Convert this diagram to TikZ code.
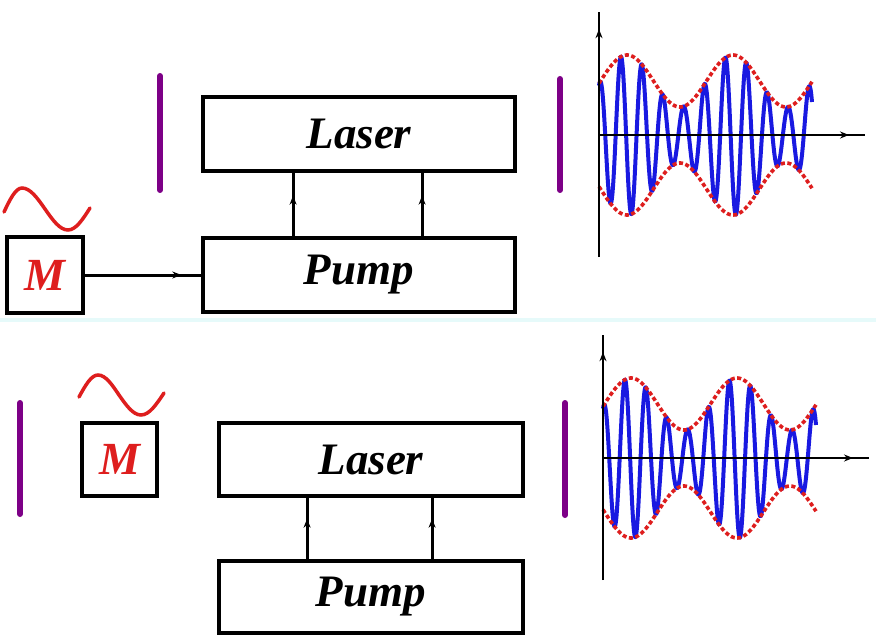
\documentclass[tikz,border=0pt]{standalone}
\usepackage{fontspec}
\setmainfont{Liberation Serif}
\usetikzlibrary{arrows.meta,decorations.markings}
\definecolor{mirrorpurple}{RGB}{125,0,135}
\definecolor{wavered}{RGB}{222,30,30}
\definecolor{carrierblue}{RGB}{25,25,225}
\definecolor{sepcyan}{RGB}{230,250,250}
\tikzset{
  blockbox/.style={draw=black, line width=3.8pt, inner sep=0pt,
    font=\fontsize{45}{50}\selectfont\bfseries\itshape},
  modbox/.style={draw=black, line width=3.8pt, inner sep=0pt, text=wavered,
    font=\fontsize{46}{50}\selectfont\bfseries\itshape},
  mirrorline/.style={draw=mirrorpurple, line width=6pt, line cap=round},
  midarrow/.style={decoration={markings, mark=at position #1 with {\arrow{Stealth[length=9pt,width=7pt]}}}, postaction={decorate}},
  conn/.style={line width=3pt},
  axisline/.style={line width=2.6pt},
  modwave/.style={draw=wavered, line width=3.5pt, line cap=round},
  envline/.style={draw=wavered, line width=3.6pt, dash pattern=on 4pt off 2.5pt},
  carrierline/.style={draw=carrierblue, line width=4pt, line join=round},
}
\begin{document}
\begin{tikzpicture}[x=1pt,y=-1pt]
\useasboundingbox (0,0) rectangle (876,642);
\fill[white] (0,0) rectangle (876,642);
% separator
\fill[sepcyan] (0,318) rectangle (876,322);

% ---------- top half ----------
\node[blockbox, minimum width=312pt, minimum height=74pt] (laserT) at (359,134) {Laser};
\node[blockbox, minimum width=312pt, minimum height=74pt] (pumpT) at (359,275) {Pump};
\node[modbox, minimum width=76pt, minimum height=76pt] (mT) at (45,275) {M};
\draw[conn, midarrow=0.83] (mT.east) -- (pumpT.west);
\draw[conn, midarrow=0.64] ([xshift=92pt]pumpT.north west) -- ([xshift=92pt]laserT.south west);
\draw[conn, midarrow=0.64] ([xshift=221pt]pumpT.north west) -- ([xshift=221pt]laserT.south west);
\draw[mirrorline] (160,76) -- (160,190);
\draw[mirrorline] (560,79) -- (560,190);
\draw[modwave] (4,212) sin (22,188) cos (45,209) sin (68,230) cos (90,208);

% ---------- bottom half ----------
\node[blockbox, minimum width=304pt, minimum height=73pt] (laserB) at (371,459.5) {Laser};
\node[blockbox, minimum width=304pt, minimum height=72pt] (pumpB) at (371,597) {Pump};
\node[modbox, minimum width=75pt, minimum height=73pt] (mB) at (119.5,459.5) {M};
\draw[conn, midarrow=0.66] ([xshift=90pt]pumpB.north west) -- ([xshift=90pt]laserB.south west);
\draw[conn, midarrow=0.66] ([xshift=215pt]pumpB.north west) -- ([xshift=215pt]laserB.south west);
\draw[mirrorline] (20,403) -- (20,514);
\draw[mirrorline] (565,403) -- (565,515);
\draw[modwave] (79,397) sin (98,375) cos (119,395) sin (141,415) cos (164,393);

% ---------- modulated waves ----------
\foreach \dx/\dy in {0/0, 4/323} {
\begin{scope}[shift={(\dx,\dy)}]
  \draw[carrierline] plot[domain=599:812, samples=600]
    (\x, {135-(54+26*cos((\x-627)/106*360))*cos((\x-600)/20.9*360)});
  \draw[envline] plot[domain=599:812, samples=200]
    (\x, {135-(54+26*cos((\x-627)/106*360))});
  \draw[envline] plot[domain=599:812, samples=200]
    (\x, {135+(54+26*cos((\x-627)/106*360))});
  \draw[axisline, midarrow=0.93] (599,257) -- (599,12);
  \draw[axisline, midarrow=0.94] (599,135) -- (865,135);
\end{scope}
}
\end{tikzpicture}
\end{document}
